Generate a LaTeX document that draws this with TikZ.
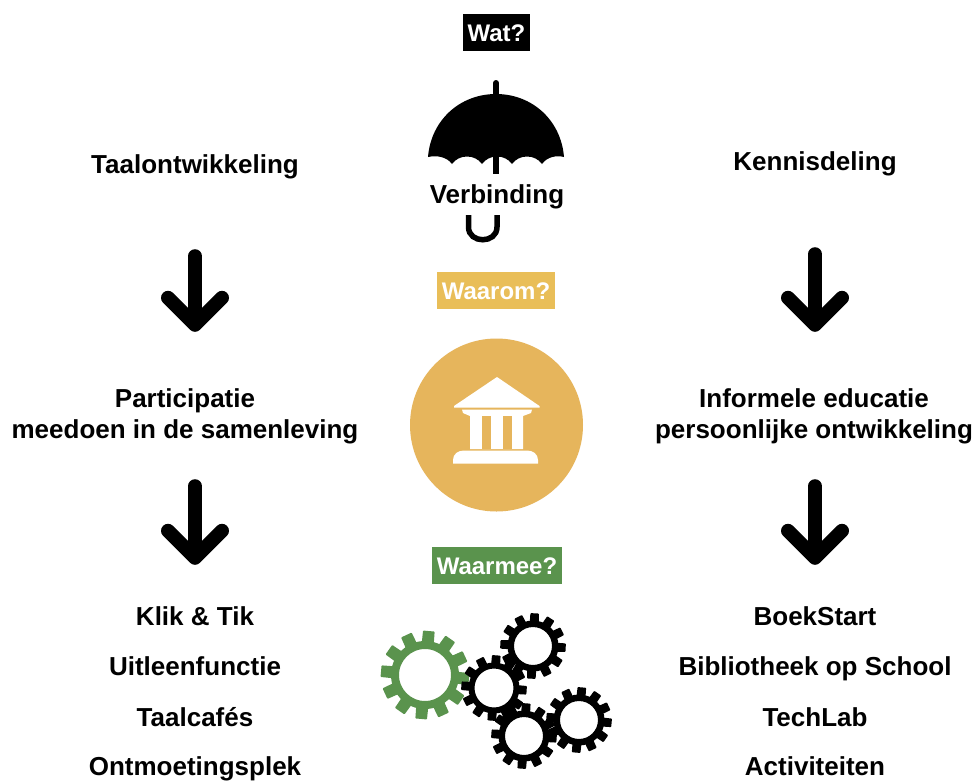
\documentclass[tikz,border=0pt]{standalone}
\usepackage{fontspec}
\setmainfont{Liberation Sans}
\usetikzlibrary{arrows.meta,calc}
\definecolor{wyellow}{HTML}{E9BE58}
\definecolor{wcircle}{HTML}{E6B55C}
\definecolor{wgreen}{HTML}{5A934D}
\tikzset{
  lbl/.style={font=\fontsize{26}{30}\selectfont\bfseries,inner sep=0pt,text height=20pt,text depth=4pt,text=black},
  tag/.style={font=\fontsize{24}{27}\selectfont\bfseries,inner sep=0pt,text=white,minimum height=37pt,text height=19pt,text depth=1pt,anchor=center},
  bigarrow/.style={line width=14pt,line cap=round,-{Straight Barb[length=27pt,width=54pt,round]}}
}
\newcommand{\mygear}[7]{% cx cy root outer hole color phase
  \pgfmathsetmacro{\rm}{(#3+#5)/2}
  \pgfmathsetmacro{\rw}{#3-#5}
  \draw[#6,line width=\rw pt] (#1,#2) circle[radius=\rm];
  \foreach \k in {0,...,11}{
    \pgfmathsetmacro{\a}{#7+\k*30}
    \fill[#6,rounded corners=0.8pt] ($(#1,#2)+(\a-10.5:{#3-1})$) -- ($(#1,#2)+(\a-7.5:#4)$) -- ($(#1,#2)+(\a+7.5:#4)$) -- ($(#1,#2)+(\a+10.5:{#3-1})$) -- cycle;
  }
}
\begin{document}
\begin{tikzpicture}[x=1pt,y=-1pt]
\useasboundingbox (0,0) rectangle (978,780);
\fill[white] (0,0) rectangle (978,780);
% tags
\node[tag,fill=black,minimum width=67pt] (wat) at (496.5,32) {Wat?};
\node[tag,fill=wyellow,minimum width=118pt] (waarom) at (496,290.5) {Waarom?};
\node[tag,fill=wgreen,minimum width=130pt] (waarmee) at (497,565.5) {Waarmee?};
% left column
\node[lbl] (taal) at (195,165) {Taalontwikkeling};
\node[lbl] (part) at (185,399) {Participatie};
\node[lbl] (meedoen) at (185,430) {meedoen in de samenleving};
\node[lbl] (klik) at (195,617) {Klik \& Tik};
\node[lbl] (uit) at (195,667) {Uitleenfunctie};
\node[lbl] (cafes) at (195,718) {Taalcafés};
\node[lbl] (ontm) at (195,767) {Ontmoetingsplek};
% right column
\node[lbl] (kennis) at (815,162) {Kennisdeling};
\node[lbl] (inf) at (814,399) {Informele educatie};
\node[lbl] (pers) at (814,430) {persoonlijke ontwikkeling};
\node[lbl] (boek) at (815,617) {BoekStart};
\node[lbl] (bieb) at (815,667) {Bibliotheek op School};
\node[lbl] (tech) at (815,718) {TechLab};
\node[lbl] (act) at (815,767) {Activiteiten};
% arrows
\draw[bigarrow,shorten <=79pt,shorten >=55pt] (taal.south) -- (taal.south |- part.north);
\draw[bigarrow,shorten <=44pt,shorten >=40pt] (taal.south |- meedoen.south) -- (taal.south |- klik.north);
\draw[bigarrow,shorten <=80pt,shorten >=55pt] (kennis.south) -- (kennis.south |- inf.north);
\draw[bigarrow,shorten <=44pt,shorten >=40pt] (kennis.south |- pers.south) -- (kennis.south |- boek.north);
% umbrella
\fill[black] (428,157) .. controls (431,120) and (460,94) .. (496,94)
  .. controls (532,94) and (561,120) .. (564,157)
  .. controls (556,155) and (547,157) .. (542,164)
  .. controls (535,154) and (519,154) .. (512,164)
  .. controls (505,154) and (489,154) .. (482,164)
  .. controls (475,154) and (459,154) .. (452,164)
  .. controls (447,157) and (437,155) .. (428,157) -- cycle;
\draw[line width=6pt,line cap=round] (496,83) -- (496,100);
\draw[line width=6pt] (496,150) -- (496,174);
\node[lbl] (verb) at (497,195) {Verbinding};
\draw[line width=5.5pt] (468.5,215) -- (468.5,227) .. controls (468.5,244) and (497,244) .. (497,227) -- (497,215);
% temple
\fill[wcircle] (496.5,425) circle[radius=86.5];
\fill[white] (497,377) -- (539.5,406) -- (539.5,407.5) -- (454,407.5) -- (454,406) -- cycle;
\fill[white] (462,409.5) -- (532,409.5) -- (531,413) -- (523,416) -- (523,449) -- (470,449) -- (470,416) -- (463,413) -- cycle;
\fill[wcircle] (482,416) rectangle (491,449);
\fill[wcircle] (503,416) rectangle (512,449);
\fill[white] (453,463.5) -- (453,460) .. controls (453,454) and (458,450.5) .. (464,450.5) -- (527,450.5) .. controls (533,450.5) and (538,454) .. (538,460) -- (538,463.5) -- cycle;
% gears
\mygear{425}{675}{34}{44.5}{26}{wgreen}{5}
\mygear{533}{646}{25.5}{33}{19}{black}{3}
\mygear{494}{688}{25.5}{33}{19.5}{black}{4}
\mygear{524}{736}{25.5}{33}{19}{black}{4}
\mygear{579}{720}{25.5}{33}{19}{black}{5}
\end{tikzpicture}
\end{document}
